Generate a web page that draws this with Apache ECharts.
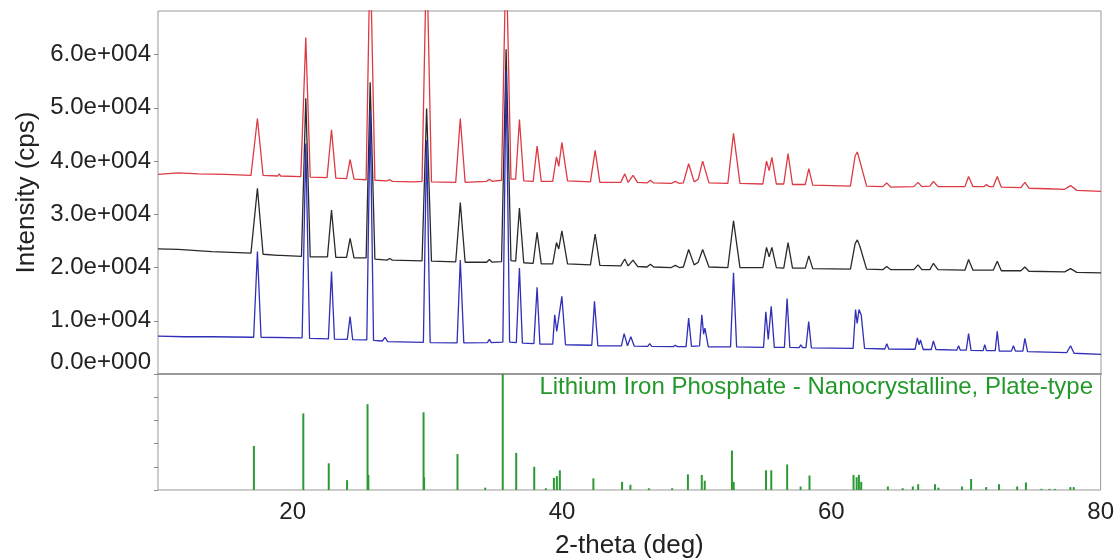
<!DOCTYPE html>
<html>
<head>
<meta charset="utf-8">
<script src="https://cdn.jsdelivr.net/npm/echarts@6/dist/echarts.min.js"></script>
<style>
  html, body { margin: 0; padding: 0; background: #fff; }
  #chart { width: 1117px; height: 560px; }
</style>
</head>
<body>
<div id="chart"></div>
<script>
// measured patterns, [2-theta, cps]
var redPoints = [
  [10, 37500], [11.5, 37800], [13, 37600], [15, 37500], [16.9, 37300],
  [17.38, 48000], [17.8, 37300],
  [18.9, 37200], [19.0, 37600], [19.1, 37200],
  [20.6, 37100], [20.97, 63200], [21.3, 37000],
  [22.55, 36900], [22.88, 45900], [23.2, 36800],
  [24.0, 36700], [24.26, 40300], [24.55, 36600],
  [25.45, 36500], [25.75, 80000], [26.1, 36400],
  [27.0, 36300], [27.2, 36500], [27.4, 36200],
  [29.0, 36100], [29.6, 36200], [29.94, 80000], [30.3, 36100],
  [32.1, 36000], [32.44, 48000], [32.8, 36000],
  [34.4, 36200], [34.6, 36600], [34.8, 36200],
  [35.5, 36400], [35.84, 80000], [36.2, 36600], [36.55, 36600], [36.83, 47800], [37.15, 36300],
  [37.85, 36200], [38.14, 42800], [38.45, 36200],
  [39.3, 36200], [39.58, 40800], [39.75, 39000], [39.98, 43500], [40.4, 36300],
  [42.1, 36100], [42.45, 42000], [42.8, 36000],
  [44.35, 36000], [44.65, 37600], [44.9, 36000], [45.26, 37300], [45.6, 36000],
  [46.3, 35900], [46.55, 36400], [46.8, 35900],
  [48.1, 35800], [48.4, 36200], [48.7, 35800],
  [49.0, 35900], [49.39, 39500], [49.8, 36100], [50.1, 36600], [50.43, 40000], [50.9, 35900],
  [52.3, 35800], [52.72, 45200], [53.2, 35800],
  [54.9, 35700], [55.17, 40000], [55.37, 38200], [55.57, 40700], [55.9, 35700],
  [56.45, 35700], [56.77, 41400], [57.1, 35600],
  [58.05, 35600], [58.31, 38600], [58.6, 35500],
  [61.4, 35300], [61.75, 41000], [61.91, 41700], [62.1, 40000], [62.6, 35300],
  [63.8, 35200], [64.09, 35900], [64.4, 35100],
  [66.1, 35200], [66.42, 36000], [66.7, 35200], [67.3, 35300], [67.56, 36200], [67.9, 35200],
  [69.9, 35200], [70.17, 37100], [70.5, 35200],
  [71.3, 35200], [71.5, 35600], [71.7, 35200],
  [72.0, 35200], [72.3, 37100], [72.6, 35100],
  [74.05, 35000], [74.35, 36000], [74.65, 34900],
  [76.0, 34800], [77.3, 34700], [77.74, 35400], [78.2, 34500], [80, 34300]
];

var blackPoints = [
  [10, 23500], [11.5, 23400], [14, 23000], [16.9, 22700], [17.38, 34900], [17.8, 22500],
  [18.9, 22300], [19.0, 22600], [19.1, 22300],
  [20.65, 22100], [20.97, 51800], [21.3, 22000],
  [22.58, 22000], [22.88, 30800], [23.2, 21900],
  [24.0, 21900], [24.26, 25500], [24.55, 21800],
  [25.45, 21800], [25.75, 54800], [26.1, 21600],
  [27.0, 21400], [27.2, 21700], [27.4, 21400],
  [29.6, 21250], [29.94, 49900], [30.3, 21200],
  [32.1, 21050], [32.44, 32200], [32.8, 21000],
  [34.4, 21000], [34.6, 21500], [34.8, 21000],
  [35.5, 21100], [35.84, 61000], [36.2, 21300], [36.55, 21200], [36.83, 31200], [37.15, 20900],
  [37.85, 20800], [38.14, 26600], [38.45, 20700],
  [39.3, 20700], [39.58, 24700], [39.75, 23500], [39.98, 26900], [40.4, 20700],
  [42.1, 20500], [42.45, 26300], [42.8, 20400],
  [44.35, 20300], [44.65, 21600], [44.9, 20300], [45.26, 21400], [45.6, 20200],
  [46.3, 20100], [46.55, 20600], [46.8, 20100],
  [48.1, 20000], [48.4, 20400], [48.7, 20000],
  [49.0, 20100], [49.39, 23400], [49.8, 20500], [50.1, 21000], [50.43, 23400], [50.9, 20100],
  [52.3, 20000], [52.72, 28800], [53.2, 20000],
  [54.9, 20000], [55.17, 23800], [55.37, 22000], [55.57, 23800], [55.9, 20000],
  [56.45, 19900], [56.77, 24700], [57.1, 19900],
  [58.05, 19900], [58.31, 22200], [58.6, 19800],
  [61.4, 19700], [61.75, 24500], [61.91, 25200], [62.1, 24000], [62.6, 19700],
  [63.8, 19600], [64.09, 20200], [64.4, 19600],
  [66.1, 19600], [66.42, 20500], [66.7, 19600], [67.3, 19600], [67.56, 20800], [67.9, 19600],
  [69.9, 19500], [70.17, 21500], [70.5, 19500],
  [72.0, 19500], [72.3, 21200], [72.6, 19400],
  [74.05, 19400], [74.35, 20100], [74.65, 19300],
  [77.3, 19200], [77.74, 19800], [78.2, 19100], [80, 19000]
];

var bluePoints = [
  [10, 7100], [12, 7000], [14, 7000], [17.1, 6900], [17.38, 23000], [17.65, 6900],
  [20.7, 6800], [20.97, 43300], [21.25, 6700],
  [22.65, 6600], [22.88, 19250], [23.1, 6550],
  [24.05, 6500], [24.26, 10800], [24.45, 6450],
  [25.5, 6400], [25.75, 49500], [26.0, 6300],
  [26.65, 6200], [26.85, 6900], [27.05, 6100],
  [29.7, 5950], [29.94, 43900], [30.2, 5900],
  [32.2, 5850], [32.44, 21400], [32.7, 5850],
  [34.45, 5900], [34.6, 6500], [34.75, 5900],
  [35.6, 6000], [35.84, 57000], [36.1, 6000], [36.6, 5900], [36.83, 19900], [37.05, 5800],
  [37.9, 5700], [38.14, 16300], [38.35, 5600],
  [39.3, 5600], [39.45, 11100], [39.6, 8000], [39.98, 14600], [40.25, 5500],
  [42.2, 5400], [42.4, 13650], [42.65, 5300],
  [44.4, 5300], [44.6, 7600], [44.85, 5300], [45.1, 7000], [45.35, 5250],
  [46.35, 5200], [46.5, 5700], [46.65, 5200],
  [48.25, 5150], [48.4, 5400], [48.55, 5150],
  [49.2, 5150], [49.39, 10500], [49.6, 5200], [50.2, 5300], [50.37, 11100], [50.5, 7500], [50.6, 8600], [50.85, 5100],
  [52.5, 5100], [52.72, 19000], [52.95, 5100],
  [54.95, 5000], [55.12, 11700], [55.3, 6500], [55.52, 12700], [55.75, 5000],
  [56.5, 5000], [56.7, 14200], [56.9, 5000],
  [57.6, 4950], [57.72, 5500], [57.85, 4950],
  [58.1, 4950], [58.3, 9850], [58.5, 4900],
  [61.6, 4800], [61.78, 12100], [61.9, 9500], [62.04, 12100], [62.2, 11100], [62.45, 4800],
  [63.95, 4700], [64.1, 5700], [64.25, 4700],
  [66.2, 4650], [66.37, 6800], [66.5, 5500], [66.6, 6400], [66.8, 4600],
  [67.4, 4600], [67.56, 6200], [67.75, 4600],
  [69.3, 4500], [69.43, 5300], [69.55, 4500],
  [70.0, 4500], [70.17, 7600], [70.35, 4450],
  [71.25, 4400], [71.37, 5500], [71.5, 4400],
  [72.15, 4400], [72.3, 8000], [72.45, 4300],
  [73.35, 4300], [73.5, 5300], [73.65, 4300],
  [74.2, 4300], [74.35, 6700], [74.55, 4200],
  [77.45, 4000], [77.74, 5300], [78.0, 3900],
  [80, 3700]
];

// reference card sticks, [2-theta, relative intensity %]
var refSticks = [
  [17.12, 38], [20.79, 66], [22.68, 23], [24.04, 8.5], [25.56, 74], [25.62, 13],
  [29.72, 67], [29.76, 11], [32.24, 31], [34.3, 2], [35.6, 100], [36.6, 32],
  [37.94, 20], [38.8, 1.5], [39.4, 10.5], [39.62, 12], [39.84, 17], [42.33, 10],
  [44.46, 7], [45.08, 4.5], [46.45, 1.5], [48.18, 1.5], [49.35, 13.5], [50.38, 13],
  [50.6, 8], [52.62, 34], [52.75, 7], [55.15, 17], [55.54, 17], [56.72, 22],
  [57.72, 3], [58.38, 12.5], [61.65, 13], [61.88, 11], [62.05, 13], [62.22, 7],
  [64.2, 3], [65.3, 1.5], [66.05, 3], [66.45, 5], [67.7, 5], [67.95, 2],
  [69.7, 3], [70.38, 9.5], [71.5, 2.5], [72.45, 5], [73.8, 3], [74.45, 6.5],
  [75.6, 1], [76.2, 1], [76.6, 1], [77.75, 2.5], [78.0, 2.5]
];

var phaseName = 'Lithium Iron Phosphate - Nanocrystalline, Plate-type';
var xTickLabels = [20, 40, 60, 80];

var font = "'Liberation Sans', Arial, sans-serif";

function yLabel (v) {
  if (v === 0) return '{z|0.0e+000}';
  if (v % 10000 !== 0) return '';
  return (v / 10000).toFixed(1) + 'e+004';
}

var myChart = echarts.init(document.getElementById('chart'));
var option = {
  animation: false,
  title: {
    text: phaseName,
    right: 24,
    top: 375,
    padding: 0,
    textStyle: { color: '#23992b', fontSize: 24, fontWeight: 'normal', fontFamily: font }
  },
  grid: [
    { left: 158, right: 16, top: 11, height: 363, show: true, borderColor: '#999', borderWidth: 1 },
    { left: 158, right: 16, top: 374, height: 120, show: true, borderColor: '#999', borderWidth: 1 }
  ],
  xAxis: [
    {
      gridIndex: 0, type: 'value', min: 10, max: 80, interval: 10,
      axisLine: { show: true, lineStyle: { color: '#999', width: 2 } }, axisTick: { show: false },
      axisLabel: { show: false }, splitLine: { show: false }
    },
    {
      gridIndex: 1, type: 'value', min: 10, max: 80, interval: 10,
      axisLine: { show: false }, axisTick: { show: false }, splitLine: { show: false },
      axisLabel: {
        margin: 10, fontSize: 24, color: '#222', fontFamily: font,
        formatter: function (v) { return xTickLabels.indexOf(v) >= 0 ? String(v) : ''; }
      },
      name: '2-theta (deg)', nameLocation: 'middle', nameGap: 43,
      nameTextStyle: { fontSize: 26, color: '#222', fontFamily: font }
    }
  ],
  yAxis: [
    {
      gridIndex: 0, type: 'value', min: 0, max: 68200, interval: 10000,
      axisLine: { show: false }, splitLine: { show: false },
      axisTick: { show: true, length: 4, lineStyle: { color: '#888' } },
      axisLabel: {
        margin: 7, fontSize: 24, color: '#222', fontFamily: font, showMaxLabel: false,
        formatter: yLabel,
        rich: { z: { fontSize: 24, color: '#222', fontFamily: font, padding: [0, 0, 24, 0] } }
      },
      name: 'Intensity (cps)', nameLocation: 'middle', nameGap: 110, nameRotate: 90,
      nameTextStyle: { fontSize: 26, color: '#222', fontFamily: font }
    },
    {
      gridIndex: 1, type: 'value', min: 0, max: 100, interval: 20,
      axisLine: { show: false }, splitLine: { show: false },
      axisTick: { show: true, length: 4, lineStyle: { color: '#888' } },
      axisLabel: { show: false }
    }
  ],
  series: [
    {
      name: 'red', type: 'line', xAxisIndex: 0, yAxisIndex: 0, data: redPoints,
      showSymbol: false, clip: true, lineStyle: { color: '#dd3a44', width: 1.3 }
    },
    {
      name: 'black', type: 'line', xAxisIndex: 0, yAxisIndex: 0, data: blackPoints,
      showSymbol: false, clip: true, lineStyle: { color: '#2a2a2a', width: 1.3 }
    },
    {
      name: 'blue', type: 'line', xAxisIndex: 0, yAxisIndex: 0, data: bluePoints,
      showSymbol: false, clip: true, lineStyle: { color: '#2f2fb8', width: 1.3 }
    },
    {
      name: 'ref', type: 'bar', xAxisIndex: 1, yAxisIndex: 1, data: refSticks,
      barWidth: 2, itemStyle: { color: '#2c9a34' }
    }
  ]
};
myChart.setOption(option);
</script>
</body>
</html>
